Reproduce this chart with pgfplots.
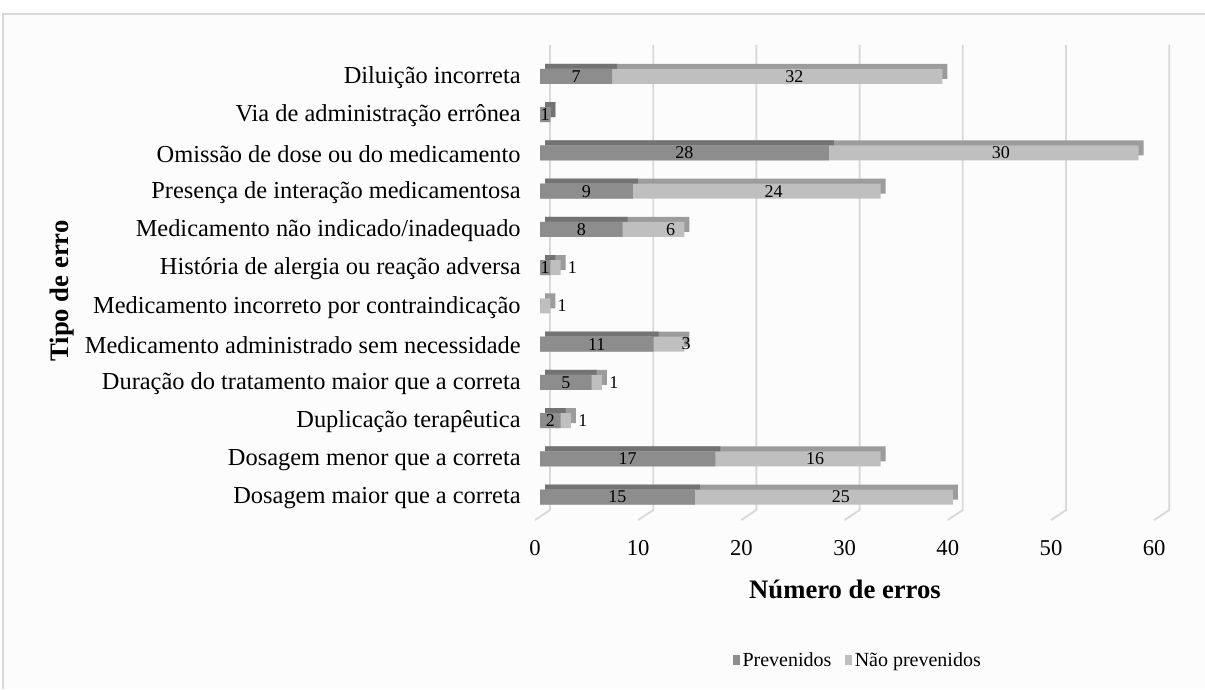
\documentclass[border=0pt]{standalone}
\usepackage{fontspec}
\setmainfont{Liberation Serif}
\usepackage{pgfplots}
\usepackage{pgfplotstable}
\pgfplotsset{compat=1.18}

\definecolor{prevfront}{HTML}{8D8D8D}
\definecolor{prevtop}{HTML}{737373}
\definecolor{nprevfront}{HTML}{BFBFBF}
\definecolor{nprevtop}{HTML}{9C9C9C}
\definecolor{gridc}{HTML}{D9D9D9}
\definecolor{framec}{HTML}{D9D9D9}

% row 0 is the bottom category
\pgfplotstableread{
idx prev nprev
0 15 25
1 17 16
2 2 1
3 5 1
4 11 3
5 0 1
6 1 1
7 8 6
8 9 24
9 28 30
10 1 0
11 7 32
}\errdata

\begin{document}
\begin{tikzpicture}
\useasboundingbox (0,0) rectangle (903.75pt,516.75pt);
\fill[white!99!black] (2.25pt,0) rectangle (903.75pt,506.25pt);
\draw[framec, line width=1.5pt] (2.25pt,0) -- (2.25pt,506.25pt) -- (903.75pt,506.25pt);

\begin{axis}[
  at={(405pt,126.75pt)}, anchor=south west,
  scale only axis, width=464.4pt, height=356.25pt,
  xmin=0, xmax=60, ymin=-0.6016, ymax=11.823,
  axis line style={draw=none},
  tick style={draw=none},
  xtick={0,10,...,60},
  ytick={0,...,11},
  yticklabels={Dosagem maior que a correta, Dosagem menor que a correta,
    Duplicação terapêutica, Duração do tratamento maior que a correta,
    Medicamento administrado sem necessidade, Medicamento incorreto por contraindicação,
    História de alergia ou reação adversa, Medicamento não indicado/inadequado,
    Presença de interação medicamentosa, Omissão de dose ou do medicamento,
    Via de administração errônea, Diluição incorreta},
  /pgf/number format/assume math mode=true,
  xticklabel style={font=\fontsize{17}{19}\selectfont, xshift=-3.75pt, yshift=-12pt},
  yticklabel style={font=\fontsize{18.3}{20}\selectfont, xshift=-11pt, yshift=-1pt},
  legend columns=2,
  legend style={draw=none, fill=none, at={(0.5136,-0.295)}, anchor=center,
    font=\fontsize{15}{17}\selectfont,
    /tikz/every even column/.append style={column sep=8pt}},
  legend image code/.code={\fill[#1, draw=none] (0pt,-4pt) rectangle (5.5pt,4pt);},
  clip=false,
]
% back wall and floor lines
\pgfplotsinvokeforeach{0,10,...,60}{
  \draw[gridc, line width=1.4pt] ([xshift=7.5pt]axis cs:#1,11.823)
    -- ([xshift=7.5pt]axis cs:#1,-0.34) -- ([xshift=-3.75pt]axis cs:#1,-0.6016);
}
% depth faces of the bars
\addplot[forget plot, xbar, bar width=11.25pt, bar shift=0pt, fill=nprevtop, draw=none,
  xshift=3.75pt, yshift=3.75pt]
  table[x expr=\thisrow{prev}+\thisrow{nprev}, y=idx]{\errdata};
\addplot[forget plot, xbar, bar width=11.25pt, bar shift=0pt, fill=prevtop, draw=none,
  xshift=3.75pt, yshift=3.75pt]
  table[x=prev, y=idx]{\errdata};
% front faces
\addplot[forget plot, xbar, bar width=11.25pt, bar shift=0pt, fill=nprevfront, draw=none]
  table[x expr=\thisrow{prev}+\thisrow{nprev}, y=idx]{\errdata};
\addplot[forget plot, xbar, bar width=11.25pt, bar shift=0pt, fill=prevfront, draw=none]
  table[x=prev, y=idx]{\errdata};
% value labels
\addplot[forget plot, draw=none, mark=none, unbounded coords=discard,
  nodes near coords, point meta=explicit,
  every node near coord/.append style={anchor=center, font=\fontsize{13.5}{14}\selectfont}]
  table[x expr={\thisrow{prev}>0 ? \thisrow{prev}/2 : nan}, y=idx, meta=prev]{\errdata};
\addplot[forget plot, draw=none, mark=none, unbounded coords=discard,
  nodes near coords, point meta=explicit,
  every node near coord/.append style={anchor=center, xshift=12.75pt, font=\fontsize{13.5}{14}\selectfont}]
  table[x expr={\thisrow{nprev}>0 ? \thisrow{prev}+\thisrow{nprev}/2 : nan}, y=idx, meta=nprev]{\errdata};

\addlegendimage{fill=prevfront}
\addlegendentry{Prevenidos}
\addlegendimage{fill=nprevfront}
\addlegendentry{Não prevenidos}
\end{axis}

\node[font=\bfseries\fontsize{20}{22}\selectfont] at (633.75pt,75pt) {Número de erros};
\node[font=\bfseries\fontsize{20}{22}\selectfont, rotate=90] at (46.5pt,298.5pt) {Tipo de erro};
\end{tikzpicture}
\end{document}
